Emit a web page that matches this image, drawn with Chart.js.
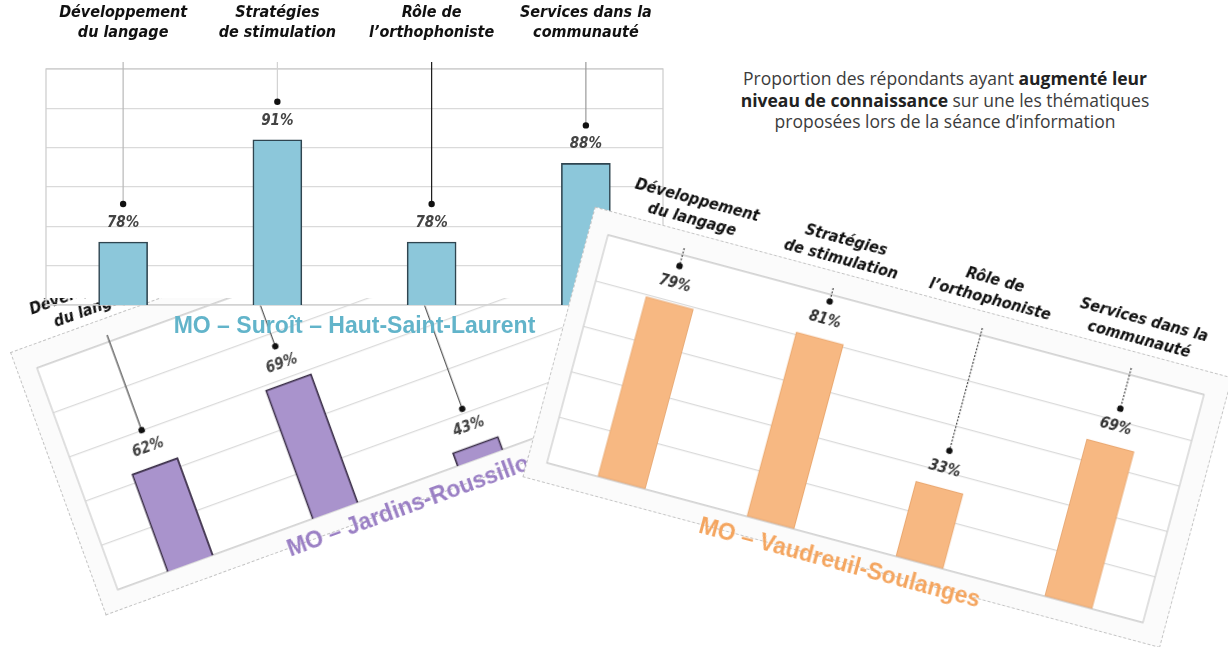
<!DOCTYPE html>
<html>
<head>
<meta charset="utf-8">
<script src="https://cdn.jsdelivr.net/npm/chart.js"></script>
<style>
  html, body { margin: 0; padding: 0; background: #fff; }
  body { width: 1228px; height: 647px; position: relative; overflow: hidden; }
  .panel { position: absolute; width: 700px; height: 345px; transform-origin: 40px 69px; }
  .card { position: absolute; left: 20px; top: 45px; width: 660px; height: 280px; box-sizing: border-box; }
  .panel canvas { position: absolute; left: 0; top: 0; }
  #note { position: absolute; left: 695px; top: 68px; width: 500px; text-align: center;
          font-family: 'Open Sans', sans-serif; font-size: 17.5px; line-height: 21.5px; color: #3c3c3c; }
  #note b { color: #222; }
</style>
</head>
<body>
<div class="panel" style="left:-3px; top:299px; transform:rotate(-20deg); z-index:1;">
  <div class="card" style="background:#fbfbfb; border:1px dashed #c4c4c4;"></div>
  <canvas id="jardins" width="700" height="345"></canvas>
</div>
<div class="panel" style="left:6px; top:0; z-index:2;">
  <div class="card" style="background:#fff; height:253px;"></div>
  <canvas id="suroit" width="700" height="345"></canvas>
</div>
<div class="panel" style="left:568px; top:166px; transform:rotate(15deg); z-index:3;">
  <div class="card" style="background:#fbfbfb; border:1px dashed #c4c4c4;"></div>
  <canvas id="vaudreuil" width="700" height="345"></canvas>
</div>
<div id="note">Proportion des répondants ayant <b>augmenté leur<br>niveau de connaissance</b> sur une les thématiques<br>proposées lors de la séance d’information</div>

<script>
// thèmes de la séance d'information
const categories = [
  ['Développement', 'du langage'],
  ['Stratégies', 'de stimulation'],
  ['Rôle de', 'l’orthophoniste'],
  ['Services dans la', 'communauté']
];

// % des répondants, par MO
const suroitValues = [78, 91, 78, 88];
const jardinsValues = [62, 69, 43, 55];   // 4e barre cachée sous l'autre diapo
const vaudreuilValues = [79, 81, 33, 69];

// axe y : min, max, pas
const suroitRange = [70, 100, 5];
const jardinsRange = [40, 90, 10];
const vaudreuilRange = [0, 100, 20];

const NARROW = "'Liberation Sans Narrow', 'DejaVu Sans Condensed', 'Arial Narrow', sans-serif";

// cadre de la zone de tracé
const frame = {
  id: 'frame',
  beforeDraw(chart, args, opts) {
    const a = chart.chartArea, ctx = chart.ctx;
    if (opts.fill) {
      ctx.save();
      ctx.fillStyle = opts.fill;
      ctx.fillRect(a.left, a.top, a.right - a.left, a.bottom - a.top);
      ctx.restore();
    }
  },
  beforeDatasetsDraw(chart) {
    const a = chart.chartArea, ctx = chart.ctx;
    ctx.save();
    ctx.strokeStyle = '#cfcfcf';
    ctx.lineWidth = 1.3;
    ctx.strokeRect(a.left, a.top, a.right - a.left, a.bottom - a.top);
    ctx.restore();
  }
};

// étiquettes de valeur avec ligne de rappel + point
const callouts = {
  id: 'callouts',
  afterDatasetsDraw(chart, args, opts) {
    const ctx = chart.ctx, a = chart.chartArea;
    const ds = chart.data.datasets[0];
    chart.getDatasetMeta(0).data.forEach((bar, i) => {
      const x = bar.x, top = bar.y;
      const dotY = top - 38;
      ctx.save();
      ctx.strokeStyle = opts.lines[i];
      ctx.lineWidth = 1.2;
      ctx.setLineDash(opts.dash || []);
      ctx.beginPath();
      ctx.moveTo(x, a.top - 7);
      ctx.lineTo(x, dotY);
      ctx.stroke();
      ctx.setLineDash([]);
      ctx.fillStyle = '#111';
      ctx.beginPath();
      ctx.arc(x, dotY, 3.2, 0, Math.PI * 2);
      ctx.fill();
      ctx.font = 'italic bold 15px ' + NARROW;
      ctx.fillStyle = opts.color;
      ctx.textAlign = 'center';
      ctx.textBaseline = 'middle';
      ctx.fillText(ds.data[i] + '%', x, top - 19);
      ctx.restore();
    });
  }
};

function slide(id, values, range, o) {
  return new Chart(document.getElementById(id), {
    type: 'bar',
    data: {
      labels: categories,
      datasets: [{
        data: values,
        backgroundColor: o.fill,
        borderColor: o.edge,
        borderWidth: o.edgeWidth,
        borderSkipped: false,
        barThickness: 49
      }]
    },
    options: {
      responsive: false,
      animation: false,
      layout: { padding: { left: 40, right: 43, top: 0, bottom: 0 } },
      plugins: {
        legend: { display: false },
        tooltip: { enabled: false },
        title: {
          display: true, position: 'bottom', text: o.title, color: o.titleColor,
          font: { family: "'Liberation Sans', Arial, sans-serif", size: 23, weight: 'bold' },
          padding: { top: 8, bottom: 4.4 }
        },
        frame: { fill: o.plotFill },
        callouts: { lines: o.lines, dash: o.dash, color: o.valueColor }
      },
      scales: {
        x: {
          position: 'top',
          grid: { display: false },
          border: { display: false },
          ticks: {
            color: '#111', padding: 18, maxRotation: 0, autoSkip: false,
            font: { family: NARROW, size: 16, style: 'italic', weight: 'bold', lineHeight: 1.25 }
          },
          afterFit: s => { s.height = 69; }
        },
        y: {
          min: range[0], max: range[1],
          ticks: { display: false, stepSize: range[2] },
          grid: { color: '#dadada', lineWidth: 1.3, drawTicks: false },
          border: { display: false },
          afterFit: s => { s.width = 0; }
        }
      }
    },
    plugins: [frame, callouts]
  });
}

slide('jardins', jardinsValues, jardinsRange, {
  fill: '#a993cc', edge: '#3b2f48', edgeWidth: 1.8,
  title: 'MO – Jardins-Roussillon', titleColor: '#9a7fc4',
  plotFill: '#ffffff', lines: ['#444', '#555', '#555', '#555'], valueColor: '#444'
});

slide('suroit', suroitValues, suroitRange, {
  fill: '#8cc7da', edge: '#2f4550', edgeWidth: 1.6,
  title: 'MO – Suroît – Haut-Saint-Laurent', titleColor: '#62b4ca',
  plotFill: null, lines: ['#b8b8b8', '#d2d2d2', '#1a1a1a', '#9a9a9a'], valueColor: '#444'
});

slide('vaudreuil', vaudreuilValues, vaudreuilRange, {
  fill: '#f7b882', edge: '#e6a46c', edgeWidth: 1,
  title: 'MO – Vaudreuil-Soulanges', titleColor: '#f4a55f',
  plotFill: '#ffffff', lines: ['#444', '#444', '#444', '#444'], dash: [2, 1.5], valueColor: '#333'
});
</script>
</body>
</html>
